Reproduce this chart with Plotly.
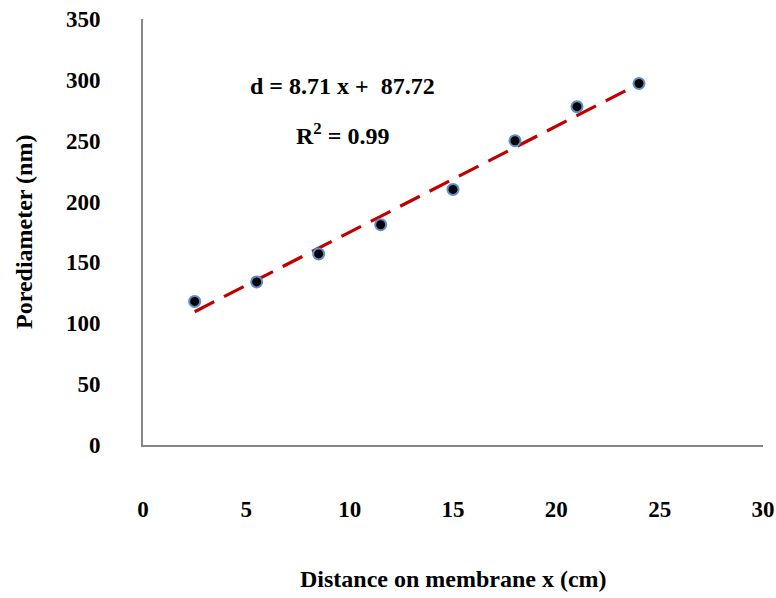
import numpy as np
import plotly.graph_objects as go

# Measured pore diameter along the membrane
distance_cm = [2.5, 5.5, 8.5, 11.5, 15, 18, 21, 24]
pore_diameter_nm = [118, 134, 157, 181, 210, 250, 278, 297]

# Linear fit reported on the chart
slope = 8.71
intercept = 87.72
r_squared = 0.99

x_ticks = [0, 5, 10, 15, 20, 25, 30]
y_ticks = [0, 50, 100, 150, 200, 250, 300, 350]

FONT = "Liberation Serif"
AXIS_GREY = "#868686"

fit_x = np.array([min(distance_cm), max(distance_cm)])
fit_y = slope * fit_x + intercept

fig = go.Figure()

fig.add_trace(go.Scatter(
    x=fit_x, y=fit_y, mode="lines",
    line=dict(color="#c00000", width=3.2, dash="22px,11px"),
    showlegend=False, hoverinfo="skip",
))

fig.add_trace(go.Scatter(
    x=distance_cm, y=pore_diameter_nm, mode="markers",
    marker=dict(color="black", size=11, line=dict(color="#5b8fc9", width=2)),
    showlegend=False,
))

tick_font = dict(family=FONT, size=23, color="black", weight="bold")

fig.update_xaxes(
    range=[0, 30], tickvals=x_ticks, showgrid=False, zeroline=False,
    showline=True, linecolor=AXIS_GREY, linewidth=2, automargin=False,
    ticks="", ticklabelstandoff=42, tickfont=tick_font,
)
fig.update_yaxes(
    range=[0, 350], tickvals=y_ticks, showgrid=False, zeroline=False,
    showline=True, linecolor=AXIS_GREY, linewidth=2, automargin=False,
    ticks="", ticklabelstandoff=36, tickfont=tick_font,
)

title_font = dict(family=FONT, size=24, color="black", weight="bold")

fig.add_annotation(
    text="Distance on membrane x (cm)", xref="paper", yref="paper",
    x=0.5, y=0, yshift=-134, showarrow=False, font=title_font,
    xanchor="center", yanchor="middle",
)
fig.add_annotation(
    text="Porediameter (nm)", xref="paper", yref="paper",
    x=0, y=0.5, xshift=-119, showarrow=False, font=title_font,
    textangle=-90, xanchor="center", yanchor="middle",
)

eq_font = dict(family=FONT, size=24, color="black", weight="bold")
fig.add_annotation(
    text=f"d = {slope:.2f} x +\u00a0 {intercept:.2f}", x=9.63, y=295,
    showarrow=False, font=eq_font, xanchor="center", yanchor="middle",
)
fig.add_annotation(
    text=f"R<sup>2</sup> = {r_squared:.2f}", x=9.63, y=255.5,
    showarrow=False, font=eq_font, xanchor="center", yanchor="middle",
)

fig.update_layout(
    width=776, height=598,
    margin=dict(l=143, r=13, t=19, b=153),
    plot_bgcolor="white", paper_bgcolor="white",
)

fig.write_html("out.html")
